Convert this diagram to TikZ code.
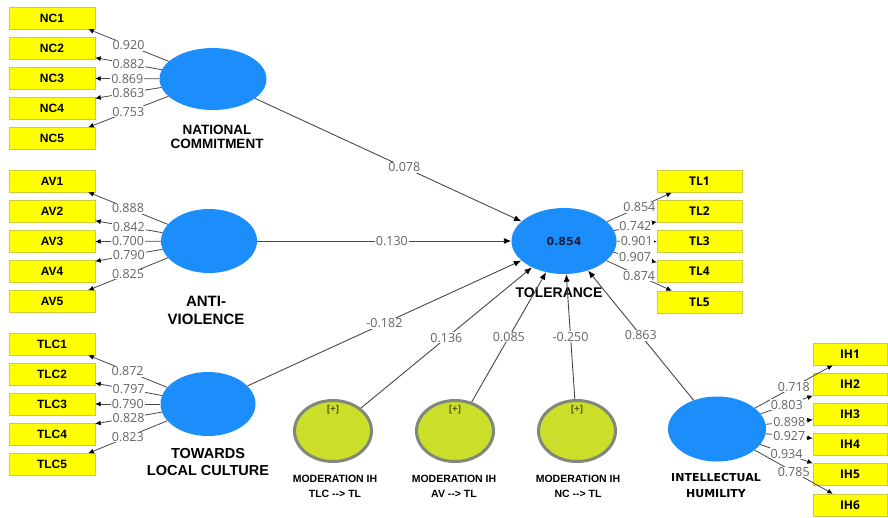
\documentclass[tikz,border=0pt]{standalone}
\usepackage{fontspec}
\setmainfont{Liberation Sans}
\newfontfamily\osans{Open Sans}
\newfontfamily\dvs{DejaVu Sans}
\usetikzlibrary{shapes.geometric,arrows.meta,calc}
\definecolor{lvblue}{RGB}{28,142,252}
\definecolor{indfill}{RGB}{255,255,0}
\definecolor{indborder}{RGB}{205,205,60}
\definecolor{modfill}{RGB}{202,222,42}
\definecolor{modborder}{RGB}{128,136,122}
\definecolor{edgecol}{RGB}{70,70,70}
\definecolor{coefcol}{RGB}{100,100,100}
\definecolor{navy}{RGB}{20,30,60}
\definecolor{plus}{RGB}{85,95,20}
\tikzset{
  indbox/.style={draw=indborder, fill=indfill, minimum width=86pt, minimum height=22pt, inner sep=0pt,
    font=\fontsize{12}{12}\selectfont\bfseries},
  indbox2/.style={indbox, font=\osans\fontsize{12}{12}\selectfont\bfseries},
  lv/.style={ellipse, fill=lvblue, inner sep=0pt},
  modlv/.style={ellipse, fill=modfill, draw=modborder, line width=3pt, inner sep=0pt,
    minimum width=77pt, minimum height=61pt},
  loadarr/.style={draw=edgecol, line width=0.8pt, -{Latex[length=5.5pt,width=5pt,color=black]}},
  patharr/.style={draw=edgecol, line width=0.9pt, -{Latex[length=7.5pt,width=6pt,color=black]}},
  coef/.style={fill=white, text=coefcol, inner sep=0.8pt, font=\osans\fontsize{12.5}{12.5}\selectfont},
  lvname/.style={align=center, font=\bfseries\fontsize{13.5}{14}\selectfont},
  modname/.style={align=center, font=\bfseries\fontsize{10.5}{15}\selectfont},
  plustext/.style={text=plus, font=\osans\bfseries\fontsize{10}{10}\selectfont}
}
\begin{document}
\begin{tikzpicture}[x=1pt,y=-1pt]
\useasboundingbox (0,0) rectangle (888,517);

% indicator boxes left
\node[indbox] (nc1) at (52,18) {NC1};
\node[indbox] (nc2) at (52,48.5) {NC2};
\node[indbox] (nc3) at (52,78.5) {NC3};
\node[indbox] (nc4) at (52,108.5) {NC4};
\node[indbox] (nc5) at (52,138.5) {NC5};
\node[indbox] (av1) at (52,181) {AV1};
\node[indbox] (av2) at (52,211.5) {AV2};
\node[indbox] (av3) at (52,241.5) {AV3};
\node[indbox] (av4) at (52,271.5) {AV4};
\node[indbox] (av5) at (52,301.5) {AV5};
\node[indbox] (tlc1) at (52,344) {TLC1};
\node[indbox] (tlc2) at (52,374) {TLC2};
\node[indbox] (tlc3) at (52,404) {TLC3};
\node[indbox] (tlc4) at (52,434) {TLC4};
\node[indbox] (tlc5) at (52,464.5) {TLC5};

% indicator boxes right
\node[indbox2, minimum width=85pt] (tl1) at (699.5,181.5) {TL1};
\node[indbox2, minimum width=85pt] (tl2) at (699.5,211.5) {TL2};
\node[indbox2, minimum width=85pt] (tl3) at (699.5,241.5) {TL3};
\node[indbox2, minimum width=85pt] (tl4) at (699.5,271.5) {TL4};
\node[indbox2, minimum width=85pt] (tl5) at (699.5,302) {TL5};
\node[indbox2, minimum width=74pt] (ih1) at (850,354) {IH1};
\node[indbox2, minimum width=74pt] (ih2) at (850,384.5) {IH2};
\node[indbox2, minimum width=74pt] (ih3) at (850,414.5) {IH3};
\node[indbox2, minimum width=74pt] (ih4) at (850,444.5) {IH4};
\node[indbox2, minimum width=74pt] (ih5) at (850,474.5) {IH5};
\node[indbox2, minimum width=74pt] (ih6) at (850,505) {IH6};

% latent variables
\node[lv, minimum width=107pt, minimum height=62pt] (nc) at (213,79) {};
\node[lv, minimum width=96pt, minimum height=64pt] (av) at (209,241) {};
\node[lv, minimum width=95pt, minimum height=64pt] (tlc) at (208,404) {};
\node[lv, minimum width=105pt, minimum height=66pt, font=\dvs\bfseries\fontsize{11}{11}\selectfont, text=navy] (tl) at (564,241) {0.854};
\node[lv, minimum width=98pt, minimum height=65pt] (ih) at (717,429) {};
\node[modlv] (m1) at (333,431) {};
\node[modlv] (m2) at (455,431) {};
\node[modlv] (m3) at (577,431) {};

\node[plustext] (p1) at (333,410) {[+]};
\node[plustext] (p2) at (455,410) {[+]};
\node[plustext] (p3) at (577,410) {[+]};

% names
\node[lvname] (ncname) at (217,136.5) {NATIONAL\\COMMITMENT};
\node[lvname, font=\bfseries\fontsize{15}{18}\selectfont] (avname) at (206,310.5) {ANTI-\\VIOLENCE};
\node[lvname, font=\bfseries\fontsize{14.5}{17.5}\selectfont] (tlcname) at (208,462) {TOWARDS\\LOCAL CULTURE};
\node[lvname, font=\bfseries\fontsize{14}{14}\selectfont] (tlname) at (559,293) {TOLERANCE};
\node[lvname, font=\dvs\bfseries\fontsize{11}{16}\selectfont] (ihname) at (716,485) {INTELLECTUAL\\HUMILITY};
\node[modname] (m1name) at (335,486.5) {MODERATION IH\\TLC -{}-> TL};
\node[modname] (m2name) at (454,486.5) {MODERATION IH\\AV -{}-> TL};
\node[modname] (m3name) at (578,486.5) {MODERATION IH\\NC -{}-> TL};

% outer loadings NC
\draw[loadarr] (nc) -- node[coef] {0.920} ($(nc1.south east)+(-7,0)$);
\draw[loadarr] (nc) -- node[coef] {0.882} ($(nc2.south east)+(0,-2)$);
\draw[loadarr] (nc) -- node[coef] {0.869} (nc3.east);
\draw[loadarr] (nc) -- node[coef] {0.863} ($(nc4.north east)+(0,1)$);
\draw[loadarr] (nc) -- node[coef] {0.753} ($(nc5.north east)+(-7,0)$);
% AV
\draw[loadarr] (av) -- node[coef] {0.888} ($(av1.south east)+(-7,0)$);
\draw[loadarr] (av) -- node[coef] {0.842} ($(av2.south east)+(0,-2)$);
\draw[loadarr] (av) -- node[coef] {0.700} (av3.east);
\draw[loadarr] (av) -- node[coef] {0.790} ($(av4.north east)+(0,1)$);
\draw[loadarr] (av) -- node[coef] {0.825} ($(av5.north east)+(-7,0)$);
% TLC
\draw[loadarr] (tlc) -- node[coef] {0.872} ($(tlc1.south east)+(-7,0)$);
\draw[loadarr] (tlc) -- node[coef] {0.797} ($(tlc2.south east)+(0,-2)$);
\draw[loadarr] (tlc) -- node[coef] {0.790} (tlc3.east);
\draw[loadarr] (tlc) -- node[coef] {0.828} ($(tlc4.north east)+(0,1)$);
\draw[loadarr] (tlc) -- node[coef] {0.823} ($(tlc5.north east)+(-7,0)$);
% TL
\draw[loadarr] (tl) -- node[coef] {0.854} ($(tl1.south west)+(15,0)$);
\draw[loadarr] (tl) -- node[coef] {0.742} ($(tl2.south west)+(0,-1)$);
\draw[loadarr] (tl) -- node[coef] {0.901} (tl3.west);
\draw[loadarr] (tl) -- node[coef] {0.907} ($(tl4.north west)+(0,2)$);
\draw[loadarr] (tl) -- node[coef] {0.874} ($(tl5.north west)+(15,0)$);
% IH
\draw[loadarr] (ih) -- node[coef] {0.718} ($(ih1.south west)+(20,0)$);
\draw[loadarr] (ih) -- node[coef] {0.803} (ih2.south west);
\draw[loadarr] (ih) -- node[coef] {0.898} ($(ih3.south west)+(0,-6)$);
\draw[loadarr] (ih) -- node[coef] {0.927} ($(ih4.north west)+(0,5)$);
\draw[loadarr] (ih) -- node[coef] {0.934} (ih5.north west);
\draw[loadarr] (ih) -- node[coef] {0.785} ($(ih6.north west)+(20,0)$);

% structural paths
\draw[patharr] (nc) -- node[coef, pos=0.56] {0.078} (tl);
\draw[patharr] (av) -- node[coef, pos=0.53] {0.130} (tl);
\draw[patharr] (tlc) -- node[coef, pos=0.5] {-0.182} (tl);
\draw[patharr] (m1) -- node[coef, pos=0.5] {0.136} (tl);
\draw[patharr] (m2) -- node[coef, pos=0.5] {0.085} (tl);
\draw[patharr] (m3) -- node[coef, pos=0.5] {-0.250} (tl);
\draw[patharr] (ih) -- node[coef, pos=0.5] {0.863} (tl);
\end{tikzpicture}
\end{document}
